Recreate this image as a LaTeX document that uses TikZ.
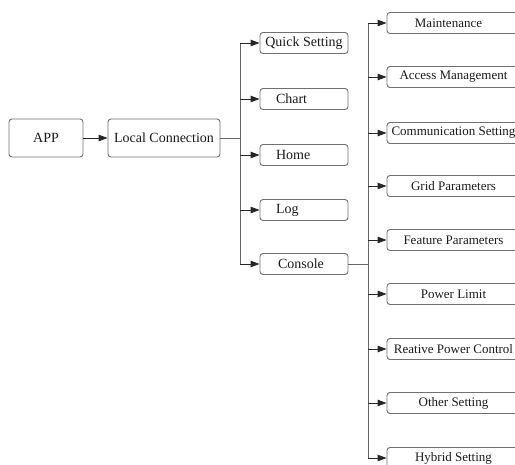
\documentclass[tikz,border=0pt]{standalone}
\usepackage{fontspec}
\setmainfont{Liberation Serif}
\usepackage{tikz}
\usetikzlibrary{arrows.meta}
\definecolor{menu_line}{HTML}{6E6464}
\definecolor{menu_border}{HTML}{707070}
\definecolor{menu_text}{HTML}{1A1A1A}

\begin{document}
\begin{tikzpicture}[
    x=1pt, y=-1pt,
    menubox/.style={draw=menu_border, line width=0.9pt, rounded corners=3pt,
        inner sep=0pt, text=menu_text, font=\fontsize{14pt}{16pt}\selectfont},
    topbox/.style={menubox, minimum width=74pt, minimum height=38pt},
    midbox/.style={menubox, minimum width=88pt, minimum height=21pt},
    lefttext/.style={align=left, text width=56pt},
    subbox/.style={menubox, minimum width=133pt, minimum height=21pt,
        font=\fontsize{13pt}{15pt}\selectfont},
    trunk/.style={menu_line, line width=0.9pt},
    branch/.style={trunk, -{Triangle[length=9pt, width=6.5pt]}, black!85}
]

% ---------------------------------------------------------------
%  Menu tree of the app: APP -> Local Connection -> five pages,
%  the Console page opens nine setting pages (cut at the right
%  and bottom edge, as in the manual page)
% ---------------------------------------------------------------
\useasboundingbox (0,0) rectangle (515,465);
\clip (0,0) rectangle (515,465);

% ---- First level ----
\node[topbox] (app)   at ( 46, 138) {APP};
\node[topbox, minimum width=112pt] (local) at (164, 138) {Local Connection};

% ---- Second level ----
\node[midbox] (quick)   at (304,  43) {Quick Setting};
\node[midbox, lefttext] (chart) at (304,  99) {Chart};
\node[midbox, lefttext] (home)  at (304, 155) {Home};
\node[midbox, lefttext] (log)   at (304, 210) {Log};
\node[midbox] (console) at (304, 264) {\hspace*{-6pt}Console};

% ---- Third level (Console) ----
\node[subbox] (maint)   at (453.5,  23) {\hspace*{-10pt}Maintenance};
\node[subbox] (access)  at (453.5,  77) {Access Management};
\node[subbox] (comm)    at (453.5, 133) {Communication Setting};
\node[subbox] (grid)    at (453.5, 186) {Grid Parameters};
\node[subbox] (feature) at (453.5, 240) {Feature Parameters};
\node[subbox] (power)   at (453.5, 294) {Power Limit};
\node[subbox] (reative) at (453.5, 349) {Reative Power Control};
\node[subbox] (other)   at (453.5, 403) {Other Setting};
\node[subbox] (hybrid)  at (453.5, 458) {Hybrid Setting};

\coordinate (split1) at (240, 138);
\coordinate (split2) at (368, 264);

% ---- APP -> Local Connection ----
\draw[branch] (app) -- (local);

% ---- Local Connection -> pages ----
\draw[trunk] (local.east) -- (split1);
\draw[trunk] (split1 |- quick) -- (split1 |- console);
\draw[branch] (split1 |- quick)   -- (quick.west);
\draw[branch] (split1 |- chart)   -- (chart.west);
\draw[branch] (split1 |- home)    -- (home.west);
\draw[branch] (split1 |- log)     -- (log.west);
\draw[branch] (split1 |- console) -- (console.west);

% ---- Console -> settings ----
\draw[trunk] (console.east) -- (split2);
\draw[trunk] (split2 |- maint) -- (split2 |- hybrid);
\draw[branch] (split2 |- maint)   -- (maint.west);
\draw[branch] (split2 |- access)  -- (access.west);
\draw[branch] (split2 |- comm)    -- (comm.west);
\draw[branch] (split2 |- grid)    -- (grid.west);
\draw[branch] (split2 |- feature) -- (feature.west);
\draw[branch] (split2 |- power)   -- (power.west);
\draw[branch] (split2 |- reative) -- (reative.west);
\draw[branch] (split2 |- other)   -- (other.west);
\draw[branch] (split2 |- hybrid)  -- (hybrid.west);

\end{tikzpicture}
\end{document}
